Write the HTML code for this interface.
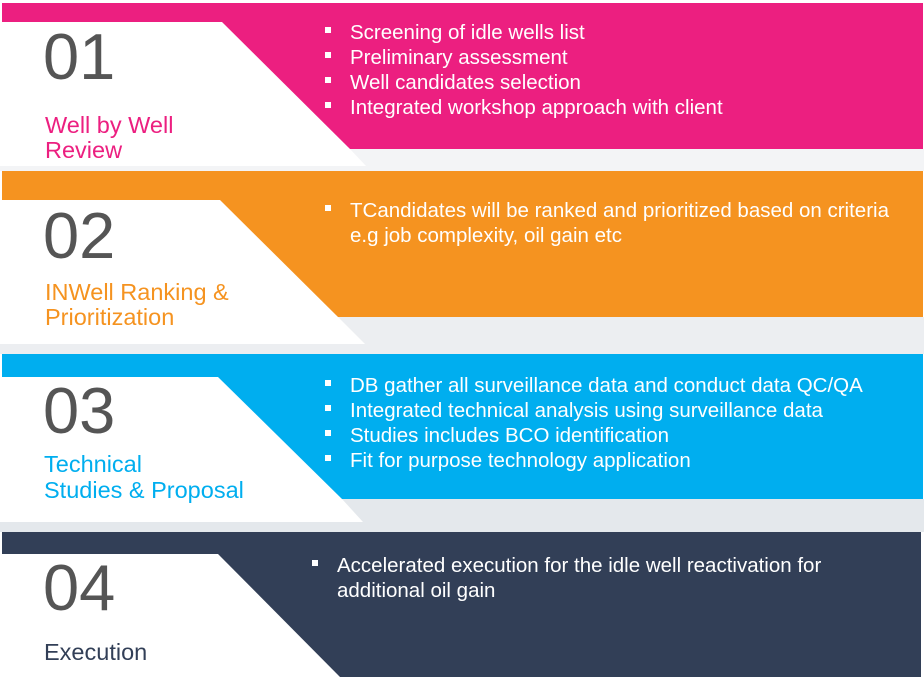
<!DOCTYPE html>
<html><head><meta charset="utf-8"><style>
html,body{margin:0;padding:0;background:#fff;}
body{width:924px;height:678px;overflow:hidden;position:relative;font-family:"Liberation Sans",sans-serif;}
svg{position:absolute;left:0;top:0;}
</style></head><body>
<svg width="924" height="678" viewBox="0 0 924 678" xmlns="http://www.w3.org/2000/svg" font-family="Liberation Sans, sans-serif">
<rect x="0" y="149" width="924" height="22" fill="#f3f4f6"/>
<rect x="2" y="3" width="921" height="146" fill="#ec1f80"/>
<polygon points="0,22 222,22 350,149 366,166 0,166" fill="#fff"/>
<rect x="0" y="317" width="924" height="37" fill="#eceef1"/>
<rect x="2" y="171" width="921" height="146" fill="#f59320"/>
<polygon points="0,200 220,200 338,317 365,344 0,344" fill="#fff"/>
<rect x="0" y="499" width="924" height="33" fill="#e4e8ec"/>
<rect x="2" y="354" width="921" height="145" fill="#00aeef"/>
<polygon points="0,377 218,377 342,499 363,522 0,522" fill="#fff"/>
<rect x="2" y="532" width="919" height="145" fill="#323f57"/>
<polygon points="0,554 218,554 341,678 0,678" fill="#fff"/>

<g fill="#555" font-size="65">
<text x="43" y="79">01</text>
<text x="43" y="258">02</text>
<text x="43" y="433">03</text>
<text x="43" y="610">04</text>
</g>
<g font-size="23.5">
<text x="45" y="133" fill="#ec1f80">Well by Well</text>
<text x="45" y="158" fill="#ec1f80">Review</text>
<text x="45" y="300" fill="#f59320">INWell Ranking &amp;</text>
<text x="45" y="325" fill="#f59320">Prioritization</text>
<text x="44" y="472" fill="#00aeef">Technical</text>
<text x="44" y="498" fill="#00aeef">Studies &amp; Proposal</text>
<text x="44" y="660" fill="#323f57">Execution</text>
</g>
<g fill="#fff" font-size="20.5">
<rect x="325" y="27" width="6" height="6"/><text x="350" y="39">Screening of idle wells list</text>
<rect x="325" y="52" width="6" height="6"/><text x="350" y="64">Preliminary assessment</text>
<rect x="325" y="77" width="6" height="6"/><text x="350" y="89">Well candidates selection</text>
<rect x="325" y="102" width="6" height="6"/><text x="350" y="114">Integrated workshop approach with client</text>

<rect x="325" y="205" width="6" height="6"/><text x="350" y="217">TCandidates will be ranked and prioritized based on criteria</text>
<text x="350" y="242">e.g job complexity, oil gain etc</text>

<rect x="325" y="380" width="6" height="6"/><text x="350" y="392">DB gather all surveillance data and conduct data QC/QA</text>
<rect x="325" y="405" width="6" height="6"/><text x="350" y="417">Integrated technical analysis using surveillance data</text>
<rect x="325" y="430" width="6" height="6"/><text x="350" y="442">Studies includes BCO identification</text>
<rect x="325" y="455" width="6" height="6"/><text x="350" y="467">Fit for purpose technology application</text>

<rect x="312" y="560" width="6" height="6"/><text x="337" y="572">Accelerated execution for the idle well reactivation for</text>
<text x="337" y="597">additional oil gain</text>
</g>
</svg>
</body></html>
